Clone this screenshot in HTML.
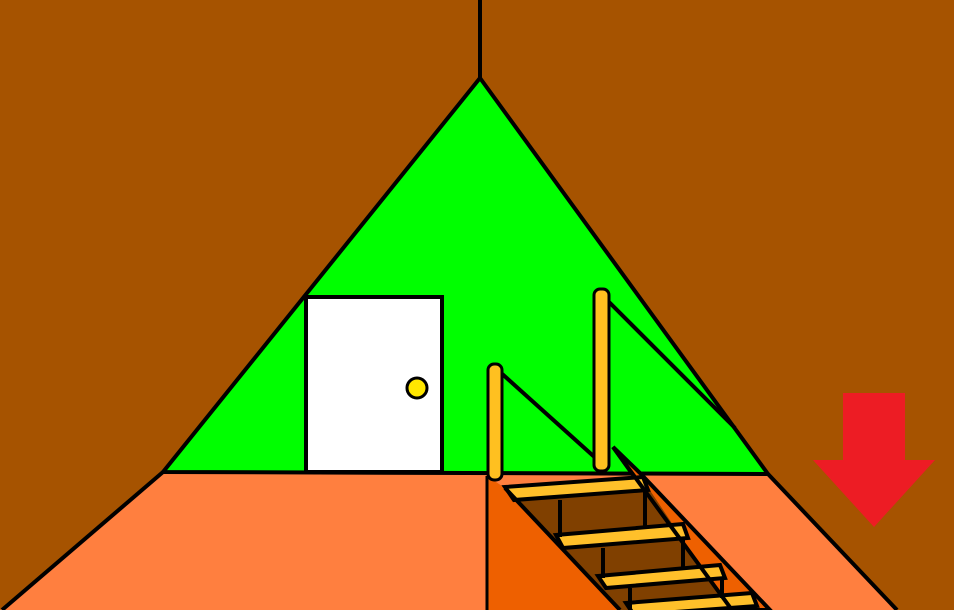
<!DOCTYPE html>
<html><head><meta charset="utf-8"><style>html,body{margin:0;padding:0;background:#A65300}svg{display:block}</style></head>
<body>
<svg width="954" height="610" viewBox="0 0 954 610" xmlns="http://www.w3.org/2000/svg">
<rect x="0" y="0" width="954" height="610" fill="#A65300"/>
<line x1="480" y1="0" x2="480" y2="80" stroke="#000" stroke-width="4"/>
<polygon points="0,610 163,472 768,474 897,610" fill="#FF7F3F"/>
<line x1="163" y1="472" x2="2" y2="610" stroke="#000" stroke-width="4"/>
<line x1="768" y1="474" x2="897" y2="610" stroke="#000" stroke-width="4"/>
<polygon points="480,78 163,472 768,474" fill="#00FF00" stroke="#000" stroke-width="4" stroke-linejoin="round"/>
<rect x="306" y="297" width="136" height="175" fill="#fff" stroke="#000" stroke-width="4"/>
<circle cx="417" cy="388" r="10" fill="#FFE600" stroke="#000" stroke-width="3"/>
<polygon points="487,476 505,488 620,610 487,610" fill="#EE6000"/>
<line x1="487" y1="476" x2="487" y2="610" stroke="#000" stroke-width="3"/>
<polygon points="613,447 640,473 770,610 730,610" fill="#EE6000" stroke="#000" stroke-width="4"/>
<polygon points="505,488 643,480 730,610 620,610" fill="#804000"/>
<g stroke="#000" stroke-width="4" fill="#FFC02A">
<polygon points="505,487 643,477 648,490 514,500"/>
<polygon points="556,535 683,524 688,538 563,548"/>
<polygon points="598,576 720,565 725,578 606,588"/>
<polygon points="626,603 752,593 757,606 634,615"/>
<line x1="560" y1="500" x2="560" y2="537"/>
<line x1="645" y1="490" x2="645" y2="528"/>
<line x1="603" y1="548" x2="603" y2="578"/>
<line x1="683" y1="538" x2="683" y2="568"/>
<line x1="630" y1="588" x2="630" y2="610"/>
<line x1="722" y1="578" x2="722" y2="598"/>
</g>
<line x1="505" y1="488" x2="620" y2="610" stroke="#000" stroke-width="4"/>
<line x1="613" y1="447" x2="732" y2="610" stroke="#000" stroke-width="4"/>
<line x1="500" y1="372" x2="600" y2="462" stroke="#000" stroke-width="4"/>
<line x1="605" y1="298" x2="735" y2="428" stroke="#000" stroke-width="4"/>
<rect x="488" y="364" width="14" height="116" rx="6" fill="#FFC020" stroke="#000" stroke-width="3"/>
<rect x="594" y="289" width="15" height="182" rx="6" fill="#FFC020" stroke="#000" stroke-width="3"/>
<g fill="#ED1C24">
<rect x="843" y="393" width="62" height="68"/>
<polygon points="813,460 935,460 874,527"/>
</g>
</svg>
</body></html>
